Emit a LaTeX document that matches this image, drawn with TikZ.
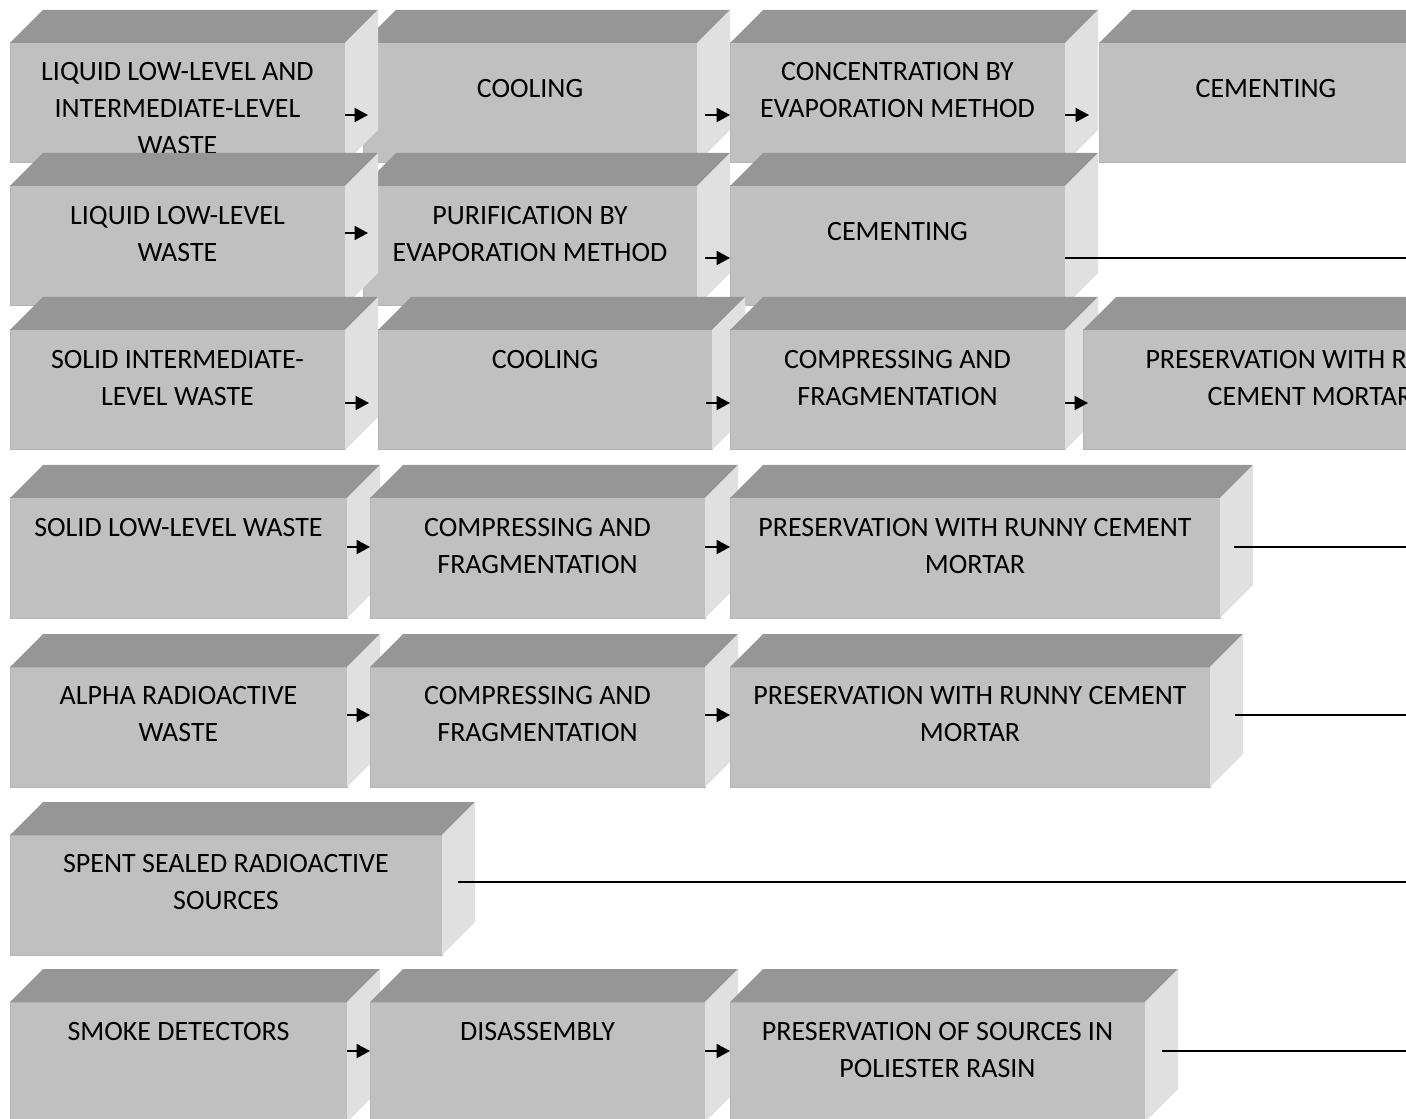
\documentclass[tikz,border=0pt]{standalone}
\usepackage{fontspec}
\setmainfont{Carlito}
\usetikzlibrary{arrows.meta,calc}
\definecolor{boxtop}{HTML}{969696}
\definecolor{boxfront}{HTML}{C0C0C0}
\definecolor{boxside}{HTML}{E0E0E0}
\definecolor{boxedge}{HTML}{B4B4B4}

% depth of the 3d boxes
\newcommand{\dep}{33}
% name, x, y (front top left), front width, text offset, text
\newcommand{\wbox}[6]{%
  \node[front, minimum width=#4*0.75pt] (#1) at (#2,#3) {};
  \fill[boxtop] (#1.north west) -- ++(\dep,-\dep) -- ($(#1.north east)+(\dep,-\dep)$) -- (#1.north east) -- cycle;
  \fill[boxside] (#1.north east) -- ++(\dep,-\dep) -- ($(#1.south east)+(\dep,-\dep)$) -- (#1.south east) -- cycle;
  \node[boxtext] (#1t) at ($(#1.north)+(0,#5)$) {#6};
}

\begin{document}
\begin{tikzpicture}[x=0.75pt, y=-0.75pt,
  front/.style={fill=boxfront, draw=boxedge, line width=0.75pt, anchor=north west, minimum height=90pt, inner sep=0pt, outer sep=0pt},
  boxtext/.style={anchor=north, align=center, inner sep=0pt, font=\fontsize{21}{27.75}\selectfont},
  arr/.style={-{Triangle[length=10pt,width=10.5pt]}, line width=1.2pt},
  link/.style={line width=1pt}
]
\useasboundingbox (0,0) rectangle (1406,1119);
\clip (0,0) rectangle (1406,1119);

% row 1
\wbox{b12}{363}{43}{334}{36}{COOLING}
\wbox{b11}{10}{43}{335}{19}{LIQUID LOW-LEVEL AND\\INTERMEDIATE-LEVEL\\WASTE}
\wbox{b13}{730}{43}{335}{19}{CONCENTRATION BY\\EVAPORATION METHOD}
\wbox{b14}{1099}{43}{334}{36}{CEMENTING}
\draw[arr] (b11.east |- 0,115) -- ($(b12.west |- 0,115)+(5,0)$);
\draw[arr] ($(b12.east |- 0,115)+(8,0)$) -- (b13.west |- 0,115);
\draw[arr] (b13.east |- 0,115) -- ($(b14.west |- 0,115)+(-10,0)$);

% row 2
\wbox{b22}{363}{186}{334}{20}{PURIFICATION BY\\EVAPORATION METHOD}
\wbox{b21}{10}{186}{335}{20}{LIQUID LOW-LEVEL\\WASTE}
\wbox{b23}{730}{186}{335}{36}{CEMENTING}
\draw[arr] (b21.east |- 0,233) -- ($(b22.west |- 0,233)+(5,0)$);
\draw[arr] ($(b22.east |- 0,258)+(8,0)$) -- (b23.west |- 0,258);
\coordinate (e2) at (1406,258);
\draw[link] (b23.east |- e2) -- (e2);

% row 3
\wbox{b31}{10}{330}{335}{20}{SOLID INTERMEDIATE-\\LEVEL WASTE}
\wbox{b32}{378}{330}{334}{20}{COOLING}
\wbox{b33}{730}{330}{335}{20}{COMPRESSING AND\\FRAGMENTATION}
\wbox{b34}{1083}{330}{454}{20}{PRESERVATION WITH RUNNY\\CEMENT MORTAR}
\draw[arr] (b31.east |- 0,403) -- ($(b32.west |- 0,403)+(-9,0)$);
\draw[arr] ($(b32.east |- 0,403)+(-6,0)$) -- (b33.west |- 0,403);
\draw[arr] (b33.east |- 0,403) -- ($(b34.west |- 0,403)+(5,0)$);

% row 4
\wbox{b41}{10}{498}{337}{20}{SOLID LOW-LEVEL WASTE}
\wbox{b42}{370}{498}{335}{20}{COMPRESSING AND\\FRAGMENTATION}
\wbox{b43}{730}{498}{490}{20}{PRESERVATION WITH RUNNY CEMENT\\MORTAR}
\draw[arr] (b41.east |- 0,547) -- (b42.west |- 0,547);
\draw[arr] (b42.east |- 0,547) -- (b43.west |- 0,547);
\coordinate (e4) at (1406,547);
\draw[link] ($(b43.east |- e4)+(14,0)$) -- (e4);

% row 5
\wbox{b51}{10}{667}{337}{19}{ALPHA RADIOACTIVE\\WASTE}
\wbox{b52}{370}{667}{335}{19}{COMPRESSING AND\\FRAGMENTATION}
\wbox{b53}{730}{667}{480}{19}{PRESERVATION WITH RUNNY CEMENT\\MORTAR}
\draw[arr] (b51.east |- 0,715) -- (b52.west |- 0,715);
\draw[arr] (b52.east |- 0,715) -- (b53.west |- 0,715);
\coordinate (e5) at (1406,715);
\draw[link] ($(b53.east |- e5)+(25,0)$) -- (e5);

% row 6
\wbox{b61}{10}{835}{432}{19}{SPENT SEALED RADIOACTIVE\\SOURCES}
\coordinate (e6) at (1406,882);
\draw[link] ($(b61.east |- e6)+(16,0)$) -- (e6);

% row 7
\wbox{b71}{10}{1002}{337}{20}{SMOKE DETECTORS}
\wbox{b72}{370}{1002}{335}{20}{DISASSEMBLY}
\wbox{b73}{730}{1002}{415}{20}{PRESERVATION OF SOURCES IN\\POLIESTER RASIN}
\draw[arr] (b71.east |- 0,1051) -- (b72.west |- 0,1051);
\draw[arr] (b72.east |- 0,1051) -- (b73.west |- 0,1051);
\coordinate (e7) at (1406,1051);
\draw[link] ($(b73.east |- e7)+(17,0)$) -- (e7);
\end{tikzpicture}
\end{document}
